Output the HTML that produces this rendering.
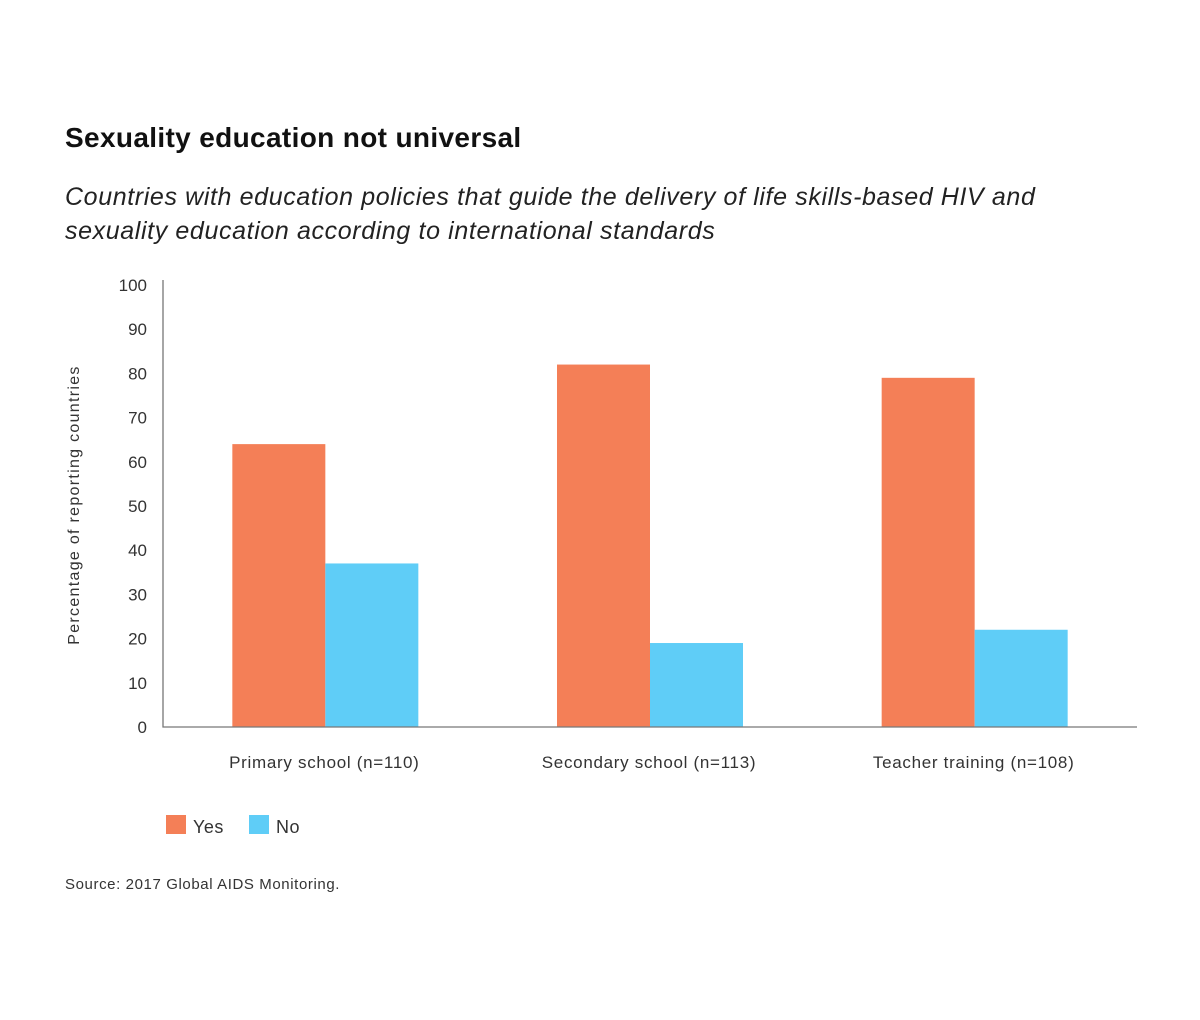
<!DOCTYPE html>
<html><head><meta charset="utf-8"><style>
body{margin:0;background:#fff;width:1200px;height:1020px;overflow:hidden;font-family:"Liberation Sans",sans-serif;color:#222}
.t{position:absolute;white-space:nowrap}
</style></head><body>
<div class="t" style="left:65px;top:122px;font-size:28px;font-weight:bold;color:#111;letter-spacing:0.35px">Sexuality education not universal</div>
<div class="t" style="left:65px;top:180px;font-size:25px;font-style:italic;line-height:34px;color:#222;letter-spacing:0.62px">Countries with education policies that guide the delivery of life skills-based HIV and<br>sexuality education according to international standards</div>
<svg id="chart" width="1200" height="1020" style="position:absolute;left:0;top:0"></svg>
<div class="t" style="left:65px;top:876px;font-size:15px;color:#333;letter-spacing:0.6px">Source: 2017 Global AIDS Monitoring.</div>
<script>
const categories=["Primary school (n=110)","Secondary school (n=113)","Teacher training (n=108)"];
const yesValues=[64,82,79];
const noValues=[37,19,22];
const yTicks=[0,10,20,30,40,50,60,70,80,90,100];
const seriesNames=["Yes","No"];
const NS="http://www.w3.org/2000/svg",svg=document.getElementById('chart');
const x0=163,x1=1137,yb=727,yt=285;
const y=v=>yb-(yb-yt)*v/100;
const band=(x1-x0)/categories.length;
function mk(t,a,txt){const e=document.createElementNS(NS,t);for(const k in a)e.setAttribute(k,a[k]);if(txt!=null)e.textContent=txt;svg.appendChild(e);return e;}
yTicks.forEach(v=>{const e=mk('text',{x:147,y:y(v)+6,'text-anchor':'end','font-size':17,fill:'#333','font-family':'Liberation Sans'},v);

});
const yl=mk('text',{transform:'translate(79,505) rotate(-90)','text-anchor':'middle','font-size':16,fill:'#333','font-family':'Liberation Sans','letter-spacing':1.3},'Percentage of reporting countries');


const bw=93;
categories.forEach((c,i)=>{const cx=x0+band*(i+0.5);
const b1=mk('rect',{x:cx-bw,y:y(yesValues[i]),width:bw,height:yb-y(yesValues[i]),fill:'#f47f57'});


const b2=mk('rect',{x:cx,y:y(noValues[i]),width:bw,height:yb-y(noValues[i]),fill:'#5fcdf7'});


const l=mk('text',{x:cx-1,y:768,'text-anchor':'middle','font-size':17,fill:'#333','font-family':'Liberation Sans','letter-spacing':0.7},c);

});
const ax=mk('path',{d:`M${x0} 280V${yb}H${x1}`,fill:'none',stroke:'#777','stroke-width':1.3});


const cols=['#f47f57','#5fcdf7'],lx=[166,249];
seriesNames.forEach((n,i)=>{const r=mk('rect',{x:lx[i],y:815,width:20,height:19,fill:cols[i]});


const t=mk('text',{x:lx[i]+27,y:833,'font-size':18,fill:'#333','font-family':'Liberation Sans','letter-spacing':0.5},n);

});
</script>
</body></html>
